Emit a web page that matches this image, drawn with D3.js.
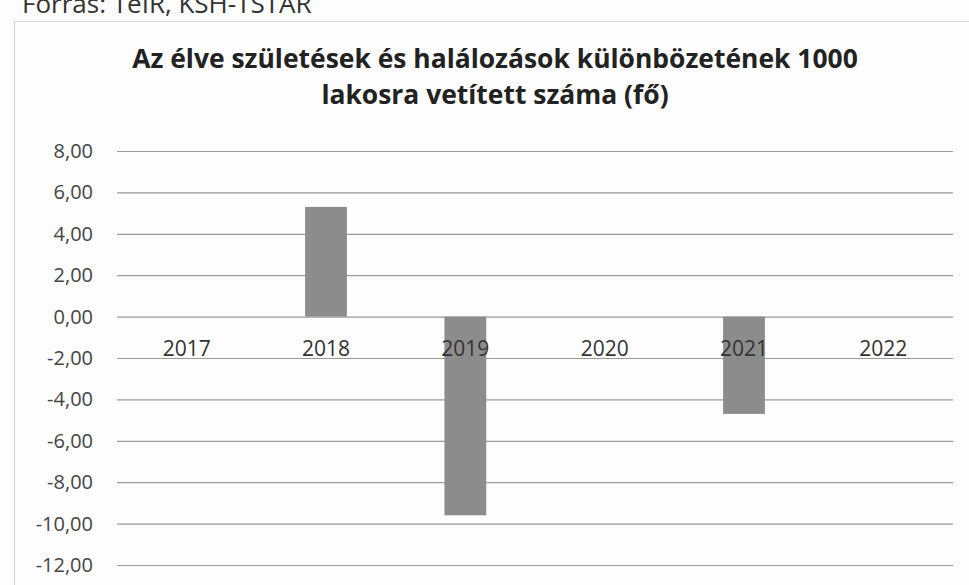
<!DOCTYPE html>
<html><head><meta charset="utf-8">
<script src="https://cdn.jsdelivr.net/npm/d3@7/dist/d3.min.js"></script>
<style>body{margin:0;background:#fff}svg{display:block}</style>
</head><body>
<script>
const source = "Forrás: TeIR, KSH-TSTAR";
const titleLines = ["Az élve születések és halálozások különbözetének 1000", "lakosra vetített száma (fő)"];
const categories = ["2017", "2018", "2019", "2020", "2021", "2022"];
const values = [0, 5.3, -9.6, 0, -4.7, 0];
const yTicks = [8, 6, 4, 2, 0, -2, -4, -6, -8, -10, -12];

const W = 969, H = 585;
const svg = d3.select("body").append("svg").attr("width", W).attr("height", H);
svg.append("rect").attr("width", W).attr("height", H).attr("fill", "#fdfdfd");

svg.append("text").attr("x", 22).attr("y", 13).attr("font-family", "Open Sans, sans-serif")
  .attr("font-size", 26).attr("fill", "#333").text(source);

svg.append("rect").attr("x", 14.5).attr("y", 21.5).attr("width", 960).attr("height", 600)
  .attr("fill", "none").attr("stroke", "#d2d2d2");

const title = svg.append("text").attr("font-family", "Open Sans, sans-serif").attr("font-weight", "bold")
  .attr("font-size", 25).attr("fill", "#222").attr("text-anchor", "middle");
titleLines.forEach((t, i) => title.append("tspan").attr("x", 495).attr("y", 68 + i * 36).text(t));
const w0 = title.select("tspan").node().getComputedTextLength();
title.attr("font-size", 25 * 726 / w0);

const x = d3.scaleBand().domain(categories).range([117, 953]).paddingInner(0.7).paddingOuter(0.35);
const y = d3.scaleLinear().domain([-12, 8]).range([565, 151]);

const fmt = v => d3.format(".2f")(v).replace(".", ",").replace("−", "-");

const yAxis = svg.append("g").attr("transform", "translate(117,0)")
  .call(d3.axisLeft(y).tickValues(yTicks).tickSize(-836).tickFormat(fmt));
yAxis.select(".domain").remove();
yAxis.selectAll(".tick line").attr("stroke", "#9a9a9a").attr("stroke-width", 1.2);
yAxis.selectAll(".tick text").attr("x", -24).attr("font-family", "Open Sans, sans-serif")
  .attr("font-size", 20).attr("fill", "#444");

svg.append("g").selectAll("rect").data(categories).join("rect")
  .attr("x", d => x(d)).attr("width", x.bandwidth())
  .attr("y", (d, i) => y(Math.max(0, values[i])))
  .attr("height", (d, i) => Math.abs(y(values[i]) - y(0)))
  .attr("fill", "#8c8c8c");

const xAxis = svg.append("g").attr("transform", `translate(0,${y(0)})`)
  .call(d3.axisBottom(x).tickSize(0).tickPadding(24));
xAxis.select(".domain").remove();
xAxis.selectAll(".tick text").attr("font-family", "Open Sans, sans-serif")
  .attr("font-size", 21).attr("fill", "#333");
</script>
</body></html>
